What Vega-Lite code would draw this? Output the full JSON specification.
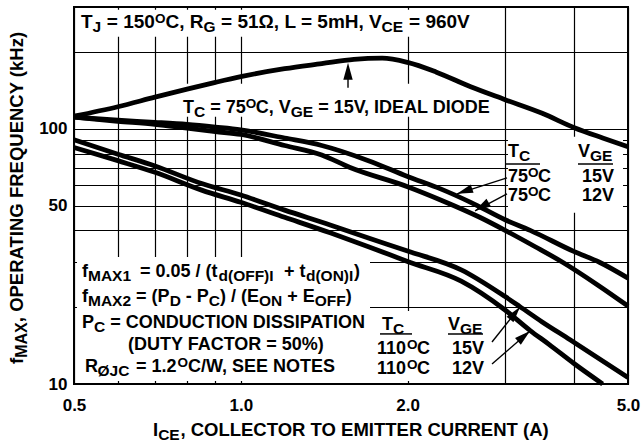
{
  "$schema": "https://vega.github.io/schema/vega-lite/v6.json",
  "width": 554,
  "height": 377,
  "autosize": {"type": "none"},
  "padding": {"left": 74, "top": 7, "right": 14, "bottom": 60},
  "background": "white",
  "config": {
    "view": {"stroke": "black", "strokeWidth": 2},
    "font": "Liberation Sans",
    "text": {"font": "Liberation Sans", "fontWeight": "bold", "color": "black", "align": "left", "baseline": "alphabetic"}
  },
  "encoding": {
    "x": {
      "field": "x", "type": "quantitative",
      "scale": {"type": "log", "domain": [0.5, 5], "nice": false},
      "axis": {
        "title": null,
        "values": [0.5, 0.6, 0.7, 0.8, 0.9, 1, 2, 3, 4, 5],
        "labelExpr": "(datum.value == 0.5 || datum.value == 1 || datum.value == 2 || datum.value == 5) ? format(datum.value, '.1f') : ''",
        "grid": true, "gridColor": "black", "gridWidth": 1.2, "gridOpacity": 1,
        "ticks": false, "domain": false,
        "labelFont": "Liberation Sans", "labelFontWeight": "bold", "labelFontSize": 17, "labelColor": "black",
        "labelPadding": 13, "labelFlush": false, "labelOverlap": false, "labelBound": false
      }
    },
    "y": {
      "field": "y", "type": "quantitative",
      "scale": {"type": "log", "domain": [10, 300], "nice": false},
      "axis": {
        "title": null,
        "values": [10, 20, 30, 40, 50, 60, 70, 80, 90, 100, 200],
        "labelExpr": "(datum.value == 10 || datum.value == 50 || datum.value == 100) ? format(datum.value, 'd') : ''",
        "grid": true, "gridColor": "black", "gridWidth": 1.2, "gridOpacity": 1,
        "ticks": false, "domain": false,
        "labelFont": "Liberation Sans", "labelFontWeight": "bold", "labelFontSize": 17, "labelColor": "black",
        "labelPadding": 7, "labelOverlap": false, "labelBound": false
      }
    }
  },
  "layer": [
    {
      "data": {"values": [
        {"x": 0.5063, "x2": 2.6145, "y": 292.9, "y2": 229.5},
        {"x": 0.7771, "x2": 2.8411, "y": 150.1, "y2": 111.4},
        {"x": 3.0365, "x2": 4.8972, "y": 93.03, "y2": 46.84},
        {"x": 0.5063, "x2": 1.7111, "y": 31.48, "y2": 10.275},
        {"x": 1.7254, "x2": 2.9616, "y": 19.33, "y2": 10.275}
      ]},
      "mark": {"type": "rect", "fill": "white", "stroke": null},
      "encoding": {"x2": {"field": "x2"}, "y2": {"field": "y2"}}
    },
    {
      "data": {"values": [
        {"s": "ideal", "x": 0.5, "y": 112}, {"s": "ideal", "x": 0.6, "y": 122}, {"s": "ideal", "x": 0.7, "y": 133},
        {"s": "ideal", "x": 0.8, "y": 143}, {"s": "ideal", "x": 0.9, "y": 152}, {"s": "ideal", "x": 1.0, "y": 160},
        {"s": "ideal", "x": 1.2, "y": 172}, {"s": "ideal", "x": 1.4, "y": 180}, {"s": "ideal", "x": 1.6, "y": 187},
        {"s": "ideal", "x": 1.8, "y": 189}, {"s": "ideal", "x": 2.0, "y": 182}, {"s": "ideal", "x": 2.25, "y": 167},
        {"s": "ideal", "x": 2.6, "y": 146}, {"s": "ideal", "x": 3.0, "y": 130}, {"s": "ideal", "x": 3.5, "y": 115},
        {"s": "ideal", "x": 4.0, "y": 101}, {"s": "ideal", "x": 4.5, "y": 92}, {"s": "ideal", "x": 5.0, "y": 85},
        {"s": "t75v15", "x": 0.5, "y": 111}, {"s": "t75v15", "x": 0.6, "y": 108}, {"s": "t75v15", "x": 0.7, "y": 106},
        {"s": "t75v15", "x": 0.8, "y": 104}, {"s": "t75v15", "x": 0.9, "y": 101.5}, {"s": "t75v15", "x": 1.0, "y": 99},
        {"s": "t75v15", "x": 1.2, "y": 92}, {"s": "t75v15", "x": 1.4, "y": 86}, {"s": "t75v15", "x": 1.7, "y": 75},
        {"s": "t75v15", "x": 2.0, "y": 65}, {"s": "t75v15", "x": 2.3, "y": 58}, {"s": "t75v15", "x": 2.6, "y": 51.5},
        {"s": "t75v15", "x": 3.0, "y": 44}, {"s": "t75v15", "x": 3.33, "y": 40}, {"s": "t75v15", "x": 4.0, "y": 33},
        {"s": "t75v15", "x": 4.44, "y": 30}, {"s": "t75v15", "x": 5.0, "y": 26},
        {"s": "t75v12", "x": 0.5, "y": 111}, {"s": "t75v12", "x": 0.6, "y": 107}, {"s": "t75v12", "x": 0.7, "y": 104},
        {"s": "t75v12", "x": 0.8, "y": 100.5}, {"s": "t75v12", "x": 0.9, "y": 97.5}, {"s": "t75v12", "x": 1.0, "y": 95},
        {"s": "t75v12", "x": 1.2, "y": 86}, {"s": "t75v12", "x": 1.4, "y": 79}, {"s": "t75v12", "x": 1.575, "y": 70.5},
        {"s": "t75v12", "x": 2.0, "y": 59.3}, {"s": "t75v12", "x": 2.3, "y": 52.5}, {"s": "t75v12", "x": 2.7, "y": 45},
        {"s": "t75v12", "x": 3.0, "y": 40}, {"s": "t75v12", "x": 3.4, "y": 34.5}, {"s": "t75v12", "x": 3.81, "y": 30},
        {"s": "t75v12", "x": 4.4, "y": 24.5}, {"s": "t75v12", "x": 5.0, "y": 20.2},
        {"s": "t110v15", "x": 0.5, "y": 90.5}, {"s": "t110v15", "x": 0.6, "y": 79.5}, {"s": "t110v15", "x": 0.7, "y": 71.5},
        {"s": "t110v15", "x": 0.85, "y": 61}, {"s": "t110v15", "x": 1.0, "y": 55}, {"s": "t110v15", "x": 1.2, "y": 48},
        {"s": "t110v15", "x": 1.45, "y": 42}, {"s": "t110v15", "x": 1.7, "y": 37.3}, {"s": "t110v15", "x": 2.0, "y": 33.2},
        {"s": "t110v15", "x": 2.5, "y": 28}, {"s": "t110v15", "x": 3.0, "y": 22}, {"s": "t110v15", "x": 3.19, "y": 20.1},
        {"s": "t110v15", "x": 3.5, "y": 17.5}, {"s": "t110v15", "x": 3.93, "y": 14.9}, {"s": "t110v15", "x": 4.5, "y": 12.3},
        {"s": "t110v15", "x": 5.0, "y": 10.6},
        {"s": "t110v12", "x": 0.5, "y": 84.5}, {"s": "t110v12", "x": 0.6, "y": 75}, {"s": "t110v12", "x": 0.7, "y": 67.5},
        {"s": "t110v12", "x": 0.85, "y": 57.5}, {"s": "t110v12", "x": 1.0, "y": 51.5}, {"s": "t110v12", "x": 1.2, "y": 45},
        {"s": "t110v12", "x": 1.45, "y": 39.1}, {"s": "t110v12", "x": 1.7, "y": 34.5}, {"s": "t110v12", "x": 2.0, "y": 30.2},
        {"s": "t110v12", "x": 2.5, "y": 25.3}, {"s": "t110v12", "x": 3.0, "y": 19.5}, {"s": "t110v12", "x": 3.33, "y": 16.2},
        {"s": "t110v12", "x": 3.6, "y": 14.3}, {"s": "t110v12", "x": 4.0, "y": 12}, {"s": "t110v12", "x": 4.5, "y": 10}
      ]},
      "mark": {"type": "line", "color": "black", "strokeWidth": 4.8, "interpolate": "monotone", "strokeCap": "butt"},
      "encoding": {"detail": {"field": "s"}}
    },
    {
      "data": {"values": [
        {"x": 1.5616, "y": 144.8, "x2": 1.5616, "y2": 175},
        {"x": 3.0239, "y": 64.25, "x2": 2.4564, "y2": 55.60},
        {"x": 3.0239, "y": 55.60, "x2": 2.6473, "y2": 47.69},
        {"x": 2.8411, "y": 14.61, "x2": 3.1917, "y2": 20.04},
        {"x": 2.8411, "y": 11.981, "x2": 3.3272, "y2": 16.14}
      ]},
      "mark": {"type": "rule", "color": "black", "strokeWidth": 1.4},
      "encoding": {"x2": {"field": "x2"}, "y2": {"field": "y2"}}
    },
    {
      "data": {"values": [
        {"x": 2.9988, "x2": 3.4684, "y": 72.70},
        {"x": 4.0618, "x2": 4.6978, "y": 72.70},
        {"x": 1.7837, "x2": 2.0374, "y": 15.71},
        {"x": 2.3662, "x2": 2.7367, "y": 15.71}
      ]},
      "mark": {"type": "rule", "color": "black", "strokeWidth": 1.5},
      "encoding": {"x2": {"field": "x2"}}
    },
    {
      "data": {"values": [{"x": 1.5616, "y": 181.5}]},
      "mark": {"type": "point", "shape": "M0,0L0.55,2L-0.55,2Z", "size": 289, "angle": 0, "filled": true, "color": "black", "opacity": 1, "strokeWidth": 0}
    },
    {
      "data": {"values": [{"x": 2.4564, "y": 55.60}]},
      "mark": {"type": "point", "shape": "M0,0L0.55,2L-0.55,2Z", "size": 256, "angle": 251.2, "filled": true, "color": "black", "opacity": 1, "strokeWidth": 0}
    },
    {
      "data": {"values": [{"x": 2.6473, "y": 47.69}]},
      "mark": {"type": "point", "shape": "M0,0L0.55,2L-0.55,2Z", "size": 256, "angle": 239.0, "filled": true, "color": "black", "opacity": 1, "strokeWidth": 0}
    },
    {
      "data": {"values": [{"x": 3.1917, "y": 20.04}]},
      "mark": {"type": "point", "shape": "M0,0L0.55,2L-0.55,2Z", "size": 256, "angle": 38.7, "filled": true, "color": "black", "opacity": 1, "strokeWidth": 0}
    },
    {
      "data": {"values": [{"x": 3.3272, "y": 16.14}]},
      "mark": {"type": "point", "shape": "M0,0L0.55,2L-0.55,2Z", "size": 256, "angle": 49.0, "filled": true, "color": "black", "opacity": 1, "strokeWidth": 0}
    },
    {
      "data": {"values": [
        {"x": 0.7868, "y": 115.56, "t": "T"},
        {"x": 0.8807, "y": 115.56, "t": "= 75"},
        {"x": 1.0645, "y": 115.56, "t": "C, V"},
        {"x": 1.3796, "y": 115.56, "t": "= 15V, IDEAL DIODE"},
        {"x": 0.5169, "y": 26.28, "t": "f"},
        {"x": 0.6578, "y": 26.28, "t": "= 0.05 / (t"},
        {"x": 1.1968, "y": 26.28, "t": "+ t"},
        {"x": 1.6010, "y": 26.28, "t": ")"},
        {"x": 0.5169, "y": 20.96, "t": "f"},
        {"x": 0.6472, "y": 20.96, "t": "= (P"},
        {"x": 0.7957, "y": 20.96, "t": "- P"},
        {"x": 0.9173, "y": 20.96, "t": ") / (E"},
        {"x": 1.2134, "y": 20.96, "t": "+ E"},
        {"x": 1.5474, "y": 20.96, "t": ")"},
        {"x": 0.5169, "y": 16.58, "t": "P"},
        {"x": 0.5813, "y": 16.58, "t": "= CONDUCTION DISSIPATION"},
        {"x": 0.6258, "y": 13.59, "t": "(DUTY FACTOR = 50%)"},
        {"x": 0.5234, "y": 11.145, "t": "R"},
        {"x": 0.6472, "y": 11.145, "t": "= 1.2"},
        {"x": 0.8033, "y": 11.145, "t": "C/W, SEE NOTES"},
        {"x": 3.0365, "y": 77.66, "t": "T"},
        {"x": 4.0618, "y": 77.66, "t": "V"},
        {"x": 3.0365, "y": 61.97, "t": "75"},
        {"x": 3.4411, "y": 61.97, "t": "C"},
        {"x": 4.1299, "y": 61.97, "t": "15V"},
        {"x": 3.0365, "y": 52.20, "t": "75"},
        {"x": 3.4411, "y": 52.20, "t": "C"},
        {"x": 4.1299, "y": 52.20, "t": "12V"},
        {"x": 1.7985, "y": 16.28, "t": "T"},
        {"x": 2.3662, "y": 16.28, "t": "V"},
        {"x": 1.7616, "y": 13.11, "t": "110"},
        {"x": 2.0810, "y": 13.11, "t": "C"},
        {"x": 2.4059, "y": 13.11, "t": "15V"},
        {"x": 1.7616, "y": 10.945, "t": "110"},
        {"x": 2.0810, "y": 10.945, "t": "C"},
        {"x": 2.4059, "y": 10.945, "t": "12V"}
      ]},
      "mark": {"type": "text", "fontSize": 18},
      "encoding": {"text": {"field": "t"}}
    },
    {
      "data": {"values": [
        {"x": 0.5148, "y": 248.9, "t": "T"},
        {"x": 0.5731, "y": 248.9, "t": "= 150"},
        {"x": 0.7312, "y": 248.9, "t": "C, R"},
        {"x": 0.9215, "y": 248.9, "t": "= 51Ω, L = 5mH, V"},
        {"x": 2.0122, "y": 248.9, "t": "= 960V"}
      ]},
      "mark": {"type": "text", "fontSize": 19},
      "encoding": {"text": {"field": "t"}}
    },
    {
      "data": {"values": [
        {"x": 0.5401, "y": 248.9, "t": "J"},
        {"x": 0.8562, "y": 248.9, "t": "G"},
        {"x": 1.7947, "y": 248.9, "t": "CE"},
        {"x": 0.8236, "y": 115.56, "t": "C"},
        {"x": 1.2311, "y": 115.56, "t": "GE"},
        {"x": 0.5300, "y": 26.28, "t": "MAX1"},
        {"x": 0.9116, "y": 26.28, "t": "d(OFF)I"},
        {"x": 1.3112, "y": 26.28, "t": "d(ON)I"},
        {"x": 0.5300, "y": 20.96, "t": "MAX2"},
        {"x": 0.7441, "y": 20.96, "t": "D"},
        {"x": 0.8756, "y": 20.96, "t": "C"},
        {"x": 1.0787, "y": 20.96, "t": "ON"},
        {"x": 1.3601, "y": 20.96, "t": "OFF"},
        {"x": 0.5434, "y": 16.58, "t": "C"},
        {"x": 0.5513, "y": 11.145, "t": "ØJC"},
        {"x": 3.1785, "y": 77.66, "t": "C"},
        {"x": 4.2695, "y": 77.66, "t": "GE"},
        {"x": 1.8827, "y": 16.28, "t": "C"},
        {"x": 2.4872, "y": 16.28, "t": "GE"},
        {"x": 0.7094, "y": 6.2535, "t": "CE"}
      ]},
      "mark": {"type": "text", "fontSize": 15.5, "dy": 4},
      "encoding": {"text": {"field": "t"}}
    },
    {
      "data": {"values": [
        {"x": 0.7000, "y": 248.9, "t": "O"},
        {"x": 1.0207, "y": 115.56, "t": "O"},
        {"x": 0.7690, "y": 11.145, "t": "O"},
        {"x": 3.2996, "y": 61.97, "t": "O"},
        {"x": 3.2996, "y": 52.20, "t": "O"},
        {"x": 1.9955, "y": 13.11, "t": "O"},
        {"x": 1.9955, "y": 10.945, "t": "O"}
      ]},
      "mark": {"type": "text", "fontSize": 13.5, "dy": -5},
      "encoding": {"text": {"field": "t"}}
    },
    {
      "data": {"values": [
        {"x": 0.6945, "y": 6.2535, "t": "I"},
        {"x": 0.7781, "y": 6.2535, "t": ", COLLECTOR TO EMITTER CURRENT (A)"}
      ]},
      "mark": {"type": "text", "fontSize": 18.5},
      "encoding": {"text": {"field": "t"}}
    },
    {
      "data": {"values": [
        {"x": 0.4053, "y": 11.981, "t": "f"},
        {"x": 0.4053, "y": 17.473, "t": ", OPERATING FREQUENCY (kHz)"}
      ]},
      "mark": {"type": "text", "fontSize": 18.5, "angle": 270},
      "encoding": {"text": {"field": "t"}}
    },
    {
      "data": {"values": [
        {"x": 0.4053, "y": 12.670, "t": "MAX"}
      ]},
      "mark": {"type": "text", "fontSize": 16, "angle": 270, "dy": 4},
      "encoding": {"text": {"field": "t"}}
    }
  ]
}
